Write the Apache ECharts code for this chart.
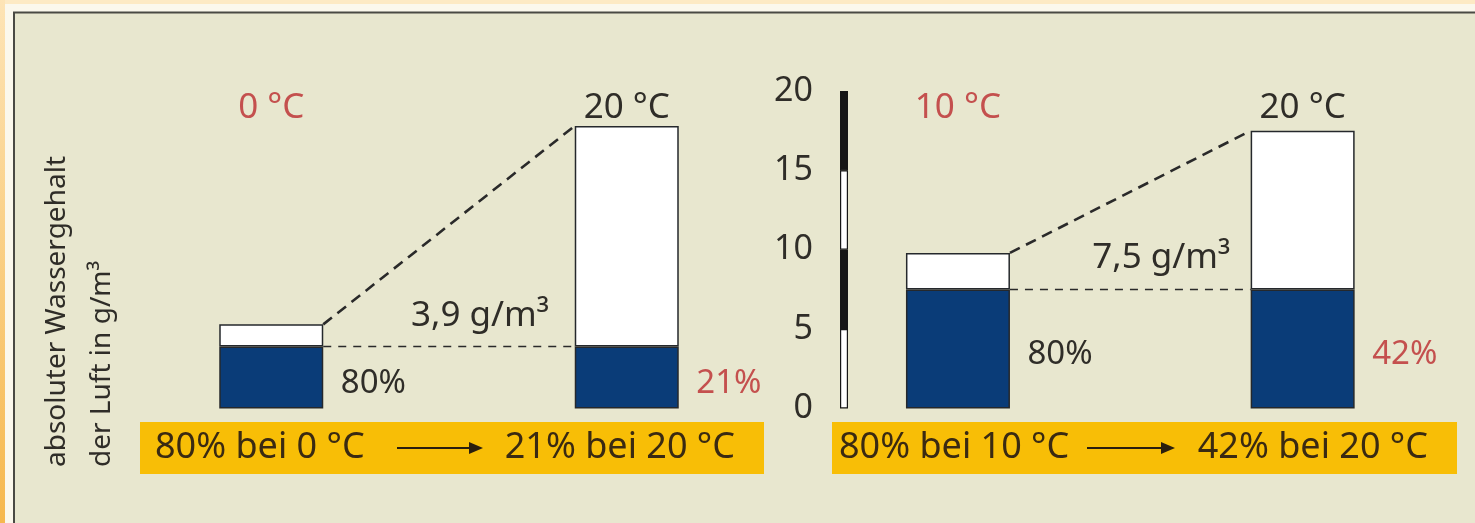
<!DOCTYPE html>
<html lang="de">
<head>
<meta charset="utf-8">
<title>Relative Luftfeuchte und Temperatur</title>
<script src="https://cdn.jsdelivr.net/npm/echarts@6/dist/echarts.min.js"></script>
<style>
  html, body { margin: 0; padding: 0; background: #fdeac4; }
  #chart { width: 1475px; height: 523px; }
</style>
</head>
<body>
<div id="chart"></div>
<script>
// Left panel: air warmed from 0 °C to 20 °C
const leftTemps = ['0 °C', '20 °C'];
const leftSaturation = [5.3, 17.8];   // g/m³ the air can hold
const leftWater = [3.9, 3.9];         // g/m³ actually present
const leftHumidity = ['80%', '21%'];

// Right panel: air warmed from 10 °C to 20 °C
const rightTemps = ['10 °C', '20 °C'];
const rightSaturation = [9.8, 17.5];
const rightWater = [7.5, 7.5];
const rightHumidity = ['80%', '42%'];

// Scale bar between the panels
const scaleSegments = [5, 5, 5, 5];
const axisMax = 20;
const tickStep = 5;

const axisTitle = ['absoluter Wassergehalt', 'der Luft in g/m³'];

const FONT = '"Noto Sans", "Open Sans", sans-serif';
const DARK = '#2f2d28';
const RED = '#c4504e';
const NAVY = '#0a3c78';
const EDGE = '#25282c';
const YELLOW = '#f8be06';
const BAR_W = 104;

const GRID_TOP = 91;
const GRID_H = 317.5;

const chart = echarts.init(document.getElementById('chart'), null, { renderer: 'canvas' });

function gm3(v) {
  return v.toFixed(1).replace('.', ',') + ' g/m³';
}

function panelSeries(idx, saturation, water, humidity, labelDy) {
  const free = saturation.map((s, i) => +(s - water[i]).toFixed(2));
  return [
    {
      type: 'bar', xAxisIndex: idx, yAxisIndex: idx, stack: 'p' + idx,
      barWidth: BAR_W, silent: true,
      data: water.map((v, i) => ({ value: v, label: { color: i === 0 ? DARK : RED } })),
      itemStyle: { color: NAVY, borderColor: EDGE, borderWidth: 1.5 },
      label: {
        show: true, position: 'right', distance: 17.5, offset: [0, labelDy],
        fontFamily: FONT, fontSize: 33,
        formatter: p => humidity[p.dataIndex]
      }
    },
    {
      type: 'bar', xAxisIndex: idx, yAxisIndex: idx, stack: 'p' + idx,
      barWidth: BAR_W, silent: true,
      data: free,
      itemStyle: { color: '#ffffff', borderColor: EDGE, borderWidth: 1.5 }
    },
    {
      // saturation tops joined by a dashed line
      type: 'custom', xAxisIndex: idx, yAxisIndex: idx, silent: true, z: 3,
      dimensions: ['x0', 'y0', 'x1', 'y1'],
      encode: { x: [0, 2], y: [1, 3] },
      data: [[0, saturation[0], 1, saturation[1]]],
      renderItem: (params, api) => {
        const a = api.coord([api.value(0), api.value(1)]);
        const b = api.coord([api.value(2), api.value(3)]);
        return {
          type: 'line',
          shape: { x1: a[0] + BAR_W / 2, y1: a[1], x2: b[0] - BAR_W / 2, y2: b[1] },
          style: { stroke: '#2a2a2a', lineWidth: 2.6, lineDash: [11, 7] }
        };
      }
    },
    {
      // water level carried over at constant absolute content
      type: 'custom', xAxisIndex: idx, yAxisIndex: idx, silent: true, z: 3,
      dimensions: ['x0', 'y0', 'x1', 'y1'],
      encode: { x: [0, 2], y: [1, 3] },
      data: [[0, water[0], 1, water[1]]],
      renderItem: (params, api) => {
        const a = api.coord([api.value(0), api.value(1)]);
        const b = api.coord([api.value(2), api.value(3)]);
        const x1 = a[0] + BAR_W / 2, x2 = b[0] - BAR_W / 2;
        return {
          type: 'group',
          children: [
            {
              type: 'line',
              shape: { x1: x1, y1: a[1], x2: x2, y2: b[1] },
              style: { stroke: '#2a2a2a', lineWidth: 1.5, lineDash: [8, 7] }
            },
            {
              type: 'text',
              style: {
                x: (x1 + x2) / 2 + 31, y: a[1] - 31,
                text: gm3(api.value(1)),
                font: '35px ' + FONT, fill: DARK,
                align: 'center', verticalAlign: 'middle'
              }
            }
          ]
        };
      }
    }
  ];
}

function tempAxis(idx, temps) {
  return {
    gridIndex: idx, type: 'category', data: temps, position: 'top',
    axisLine: { show: false }, axisTick: { show: false },
    axisLabel: {
      inside: true, margin: 0, interval: 0,
      formatter: (v, i) => '{' + (i === 0 ? 'r' : 'd') + '|' + v + '}',
      rich: {
        r: { color: RED, fontSize: 35, fontFamily: FONT },
        d: { color: DARK, fontSize: 35, fontFamily: FONT }
      }
    }
  };
}

function hiddenValueAxis(idx) {
  return { gridIndex: idx, type: 'value', min: 0, max: axisMax, show: false };
}

function yellowBox(x, w, texts, textStartDx, arrowX1, arrowX2) {
  const cy = 448;
  return {
    type: 'group',
    children: [
      { type: 'rect', shape: { x: x, y: 422, width: w, height: 52 }, style: { fill: YELLOW } },
      {
        type: 'text',
        style: { x: x + textStartDx, y: cy, text: texts[0], font: '36px ' + FONT, fill: '#3a2a12', align: 'left', verticalAlign: 'middle' }
      },
      {
        type: 'line',
        shape: { x1: arrowX1, y1: cy, x2: arrowX2 - 12, y2: cy },
        style: { stroke: '#2a1e0e', lineWidth: 2 }
      },
      {
        type: 'polygon',
        shape: { points: [[arrowX2 - 14, cy - 6], [arrowX2, cy], [arrowX2 - 14, cy + 6]] },
        style: { fill: '#2a1e0e' }
      },
      {
        type: 'text',
        style: { x: x + w - 29, y: cy, text: texts[1], font: '36px ' + FONT, fill: '#3a2a12', align: 'right', verticalAlign: 'middle' }
      }
    ]
  };
}

const option = {
  backgroundColor: '#fdeac4',
  animation: false,
  grid: [
    { left: 93.5, top: GRID_TOP, width: 711, height: GRID_H },
    { left: 785.6, top: GRID_TOP, width: 711, height: GRID_H },
    { left: 840, top: GRID_TOP, width: 8, height: GRID_H }
  ],
  xAxis: [
    tempAxis(0, leftTemps),
    tempAxis(1, rightTemps),
    { gridIndex: 2, type: 'category', data: [''], show: false }
  ],
  yAxis: [
    hiddenValueAxis(0),
    hiddenValueAxis(1),
    {
      gridIndex: 2, type: 'value', min: 0, max: axisMax, interval: tickStep,
      axisLine: { show: false }, axisTick: { show: false }, splitLine: { show: false },
      axisLabel: { margin: 27, fontSize: 34, fontFamily: FONT, color: DARK }
    }
  ],
  graphic: [
    {
      type: 'rect', z: -10, silent: true,
      shape: { x: 0, y: 0, width: 5, height: 523 },
      style: {
        fill: new echarts.graphic.LinearGradient(0, 0, 0, 1, [
          { offset: 0, color: '#fde4b6' },
          { offset: 1, color: '#f6b84e' }
        ])
      }
    },
    { type: 'rect', z: -10, silent: true, shape: { x: 5, y: 4, width: 1470, height: 519 }, style: { fill: '#fbf8ec' } },
    {
      type: 'rect', z: -9, silent: true,
      shape: { x: 14, y: 12.5, width: 1480, height: 530 },
      style: { fill: '#e8e7cf', stroke: '#4a4a44', lineWidth: 2 }
    },
    {
      type: 'text', silent: true, x: 80, y: 467, rotation: Math.PI / 2,
      style: {
        text: axisTitle.join('\n'), font: '28px ' + FONT, fill: DARK,
        align: 'left', verticalAlign: 'middle', lineHeight: 45
      }
    },
    yellowBox(140, 624,
      [leftHumidity[0] + ' bei ' + leftTemps[0], leftHumidity[1] + ' bei ' + leftTemps[1]],
      15, 397, 483),
    yellowBox(832, 625,
      [rightHumidity[0] + ' bei ' + rightTemps[0], rightHumidity[1] + ' bei ' + rightTemps[1]],
      7, 1087, 1175)
  ],
  series: [
    ...panelSeries(0, leftSaturation, leftWater, leftHumidity, 6.5),
    ...panelSeries(1, rightSaturation, rightWater, rightHumidity, 6),
    ...scaleSegments.map((v, i) => ({
      type: 'bar', xAxisIndex: 2, yAxisIndex: 2, stack: 'scale', silent: true,
      barWidth: 8, data: [v],
      itemStyle: { color: i % 2 === 0 ? '#ffffff' : '#161616', borderColor: '#161616', borderWidth: 1.2 }
    }))
  ]
};

chart.setOption(option);
</script>
</body>
</html>
